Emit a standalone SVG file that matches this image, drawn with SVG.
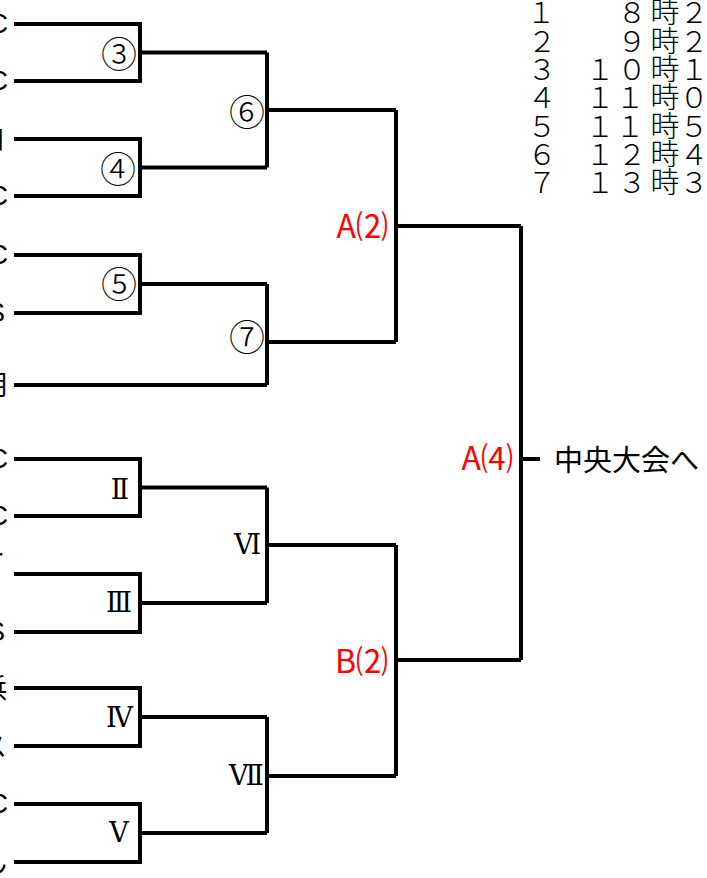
<svg xmlns="http://www.w3.org/2000/svg" width="707" height="878" viewBox="0 0 707 878">
<style>
.ln{fill:none;stroke:#000;stroke-width:4;stroke-linejoin:miter;stroke-linecap:butt}
.jp{font-family:"Noto Sans CJK JP","Noto Sans",sans-serif;fill:#000}
.lat{font-family:"Liberation Sans","Noto Sans CJK JP",sans-serif;fill:#000}
.cn{font-family:"Noto Sans CJK JP",sans-serif;font-size:36px;font-weight:300;text-anchor:middle;fill:#000}
.rn{font-family:"DejaVu Serif","Liberation Serif","Noto Sans CJK JP",serif;font-size:27px;text-anchor:middle;fill:#000}
.red{font-family:"Noto Sans CJK JP","Liberation Sans",sans-serif;font-size:32px;text-anchor:end;fill:#ff0000}
.tb{font-family:"Noto Sans CJK JP",sans-serif;font-size:29px;font-weight:300;text-anchor:middle;fill:#000}
.frag{font-size:27px;text-anchor:end}
</style>
<rect width="707" height="878" fill="#fff"/>
<g id="connectors">
<path class="ln" d="M14,24 H140 V81 H14 M140,52.5 H267"/>
<path class="ln" d="M14,139 H140 V196 H14 M140,167.5 H267"/>
<path class="ln" d="M14,255 H140 V313 H14 M140,284 H267"/>
<path class="ln" d="M14,385 H267"/>
<path class="ln" d="M14,459 H140 V516 H14 M140,487.5 H267"/>
<path class="ln" d="M14,574 H140 V632 H14 M140,603 H267"/>
<path class="ln" d="M14,688 H140 V746 H14 M140,717 H267"/>
<path class="ln" d="M14,804 H140 V862 H14 M140,833 H267"/>
<path class="ln" d="M267,52.5 V167.5 M267,110 H396"/>
<path class="ln" d="M267,284 V385 M267,342 H396"/>
<path class="ln" d="M267,487.5 V603 M267,545 H396"/>
<path class="ln" d="M267,717 V833 M267,776 H396"/>
<path class="ln" d="M396,110 V342 M396,226 H521"/>
<path class="ln" d="M396,545 V776 M396,660 H521"/>
<path class="ln" d="M521,226 V660 M521,459 H540"/>
</g>
<g id="teams">
<text class="lat frag" x="8" y="33">C</text>
<text class="lat frag" x="8" y="90">C</text>
<text class="jp frag" x="5" y="149">口</text>
<text class="lat frag" x="8" y="205">C</text>
<text class="lat frag" x="8" y="264">C</text>
<text class="lat frag" x="5" y="322">S</text>
<text class="jp frag" x="7" y="395">明</text>
<text class="lat frag" x="8" y="468">C</text>
<text class="lat frag" x="8" y="525">C</text>
<text class="jp frag" x="5" y="565">ー</text>
<text class="lat frag" x="5" y="641">S</text>
<text class="jp frag" x="7" y="698">浜</text>
<text class="jp frag" x="7" y="756">ス</text>
<text class="lat frag" x="8" y="813">C</text>
<text class="jp frag" x="7" y="872">ん</text>
</g>
<g id="m3"><text class="cn" x="119" y="68">③</text></g>
<g id="m4"><text class="cn" x="118" y="183">④</text></g>
<g id="m5"><text class="cn" x="119" y="298">⑤</text></g>
<g id="m6"><text class="cn" x="247" y="126">⑥</text></g>
<g id="m7"><text class="cn" x="247" y="351">⑦</text></g>
<g id="r2"><text class="rn" x="120" y="499">Ⅱ</text></g>
<g id="r3"><text class="rn" x="119" y="612">Ⅲ</text></g>
<g id="r4"><text class="rn" x="119.5" y="727">Ⅳ</text></g>
<g id="r5"><text class="rn" x="119" y="842">Ⅴ</text></g>
<g id="r6"><text class="rn" x="247.5" y="554">Ⅵ</text></g>
<g id="r7"><text class="rn" x="246.5" y="785">Ⅶ</text></g>
<g id="a2"><text class="red" x="388" y="238">A⑵</text></g>
<g id="b2"><text class="red" x="388" y="673">B⑵</text></g>
<g id="a4"><text class="red" x="513" y="470">A⑷</text></g>
<g id="final"><text class="jp" x="554" y="471" font-size="29">中央大会へ</text></g>
<g id="schedule">
<text class="tb" x="541 632 665 694" y="23">１８時２</text>
<text class="tb" x="542 632 665 694" y="51.5">２９時２</text>
<text class="tb" x="542 600 632 665 694" y="80">３１０時１</text>
<text class="tb" x="542 600 630 665 694" y="108">４１１時０</text>
<text class="tb" x="542 600 630 665 694" y="137">５１１時５</text>
<text class="tb" x="542 600 632 665 694" y="165">６１２時４</text>
<text class="tb" x="542 600 632 665 694" y="193">７１３時３</text>
</g>
</svg>
